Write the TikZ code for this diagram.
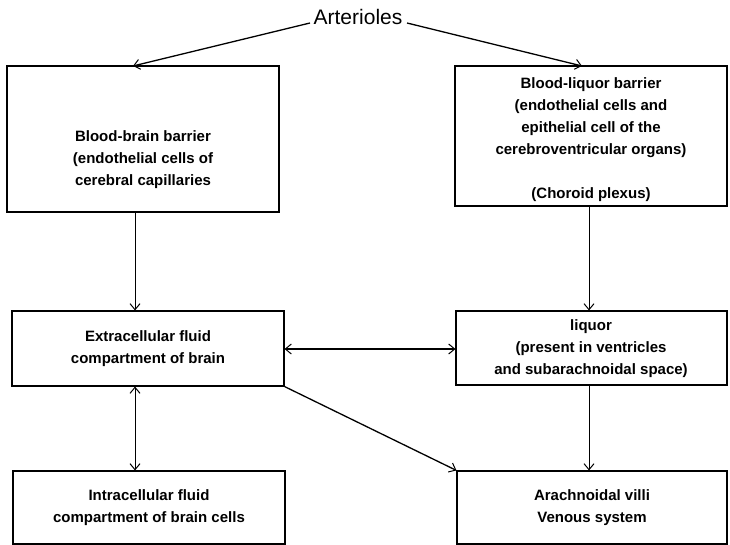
\documentclass[tikz,border=0pt]{standalone}
\usepackage{fontspec}
\setmainfont{Liberation Sans}
\usetikzlibrary{arrows.meta}
\begin{document}
\begin{tikzpicture}[x=1pt,y=-1pt,
  box/.style={draw,line width=1.1pt,inner sep=0pt},
  lbl/.style={align=center,font=\fontsize{15}{22}\selectfont\bfseries,inner sep=0pt},
  arr/.style={line width=0.9pt,-{Straight Barb[length=6pt,width=10pt,line width=1pt]}},
  darr/.style={line width=0.9pt,{Straight Barb[length=6pt,width=10pt,line width=1pt]}-{Straight Barb[length=6pt,width=10pt,line width=1pt]}}]
\useasboundingbox (0,0) rectangle (730,545);
% boxes
\node[box,minimum width=272pt,minimum height=146pt] (bbb) at (143,139) {};
\node[box,minimum width=272pt,minimum height=140pt] (blb) at (591,136) {};
\node[box,minimum width=272pt,minimum height=75pt] (ecf) at (148,348.5) {};
\node[box,minimum width=271pt,minimum height=74pt] (liq) at (591.5,348) {};
\node[box,minimum width=272pt,minimum height=73pt] (icf) at (149,507.5) {};
\node[box,minimum width=270pt,minimum height=73pt] (arach) at (592,507.5) {};
% texts
\node[inner sep=0pt,font=\fontsize{21}{24}\selectfont] (art) at (358,17) {Arterioles};
\node[lbl] (tbbb) at (143,160) {Blood-brain barrier\\(endothelial cells of\\cerebral capillaries};
\node[lbl] (tblb) at (591,140) {Blood-liquor barrier\\(endothelial cells and\\epithelial cell of the\\cerebroventricular organs)\\[22pt](Choroid plexus)};
\node[lbl] (tecf) at (148,349) {Extracellular fluid\\compartment of brain};
\node[lbl] (tliq) at (591,349) {liquor\\(present in ventricles\\and subarachnoidal space)};
\node[lbl] (ticf) at (149,508) {Intracellular fluid\\compartment of brain cells};
\node[lbl] (tarach) at (592,508) {Arachnoidal villi\\Venous system};
% connectors
\coordinate (artL) at (310,23);
\coordinate (artR) at (407,23);
\draw[arr,line width=1.3pt] (artL) -- (133,66);
\draw[arr,line width=1.3pt] (artR) -- (582,66);
\draw[arr] (bbb.south -| 135,0) -- (ecf.north -| 135,0);
\draw[arr] (blb.south -| 589,0) -- (liq.north -| 589,0);
\draw[darr,line width=1.6pt] (ecf.east |- 0,349) -- (liq.west |- 0,349);
\draw[darr] (ecf.south -| 135,0) -- (icf.north -| 135,0);
\draw[arr] (liq.south -| 589,0) -- (arach.north -| 589,0);
\draw[arr,line width=1.3pt] (ecf.south east) -- (arach.north west);
\end{tikzpicture}
\end{document}
